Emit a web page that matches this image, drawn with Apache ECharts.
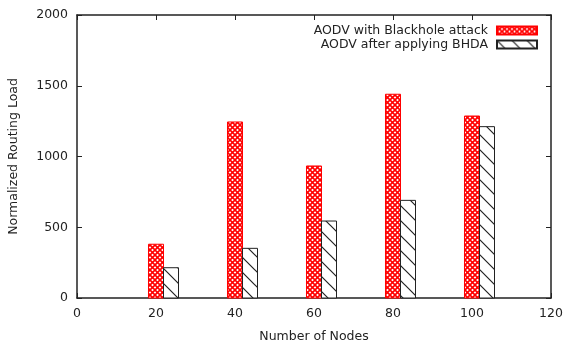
<!DOCTYPE html>
<html>
<head>
<meta charset="utf-8">
<script src="https://cdn.jsdelivr.net/npm/echarts@6/dist/echarts.min.js"></script>
<style>
  html, body { margin: 0; padding: 0; background: #fff; }
  #chart { width: 575px; height: 345px; }
</style>
</head>
<body>
<div id="chart"></div>
<script>
// data
var nodes = [20, 40, 60, 80, 100];
var blackholeLoad = [380, 1244, 933, 1440, 1286];
var bhdaLoad = [214, 351, 544, 690, 1211];
var xTicks = [0, 20, 40, 60, 80, 100, 120];
var yTicks = [0, 500, 1000, 1500, 2000];
var seriesNames = ['AODV with Blackhole attack', 'AODV after applying BHDA'];

var barSpan = 3.8; // bar width in x units

function crossPattern() {
    var c = document.createElement('canvas');
    c.width = 5; c.height = 5;
    var ctx = c.getContext('2d');
    ctx.fillStyle = '#fff';
    ctx.fillRect(0, 0, 5, 5);
    ctx.strokeStyle = '#ff0000';
    ctx.lineWidth = 1.6;
    ctx.beginPath();
    ctx.moveTo(-1, -1); ctx.lineTo(6, 6);
    ctx.moveTo(6, -1); ctx.lineTo(-1, 6);
    ctx.stroke();
    return c;
}

function hatchPattern() {
    var c = document.createElement('canvas');
    c.width = 15; c.height = 15;
    var ctx = c.getContext('2d');
    ctx.fillStyle = '#fff';
    ctx.fillRect(0, 0, 15, 15);
    ctx.strokeStyle = '#222';
    ctx.lineWidth = 1.2;
    ctx.beginPath();
    ctx.moveTo(-2, -2); ctx.lineTo(17, 17);
    ctx.moveTo(-2, 13); ctx.lineTo(2, 17);
    ctx.moveTo(13, -2); ctx.lineTo(17, 2);
    ctx.stroke();
    return c;
}

var redFill = { image: crossPattern(), repeat: 'repeat' };
var blackFill = { image: hatchPattern(), repeat: 'repeat' };

function makeBarRenderer(offset, fill, stroke) {
    return function (params, api) {
        var x = api.value(0) + offset;
        var y = api.value(1);
        var p1 = api.coord([x - barSpan / 2, y]);
        var p2 = api.coord([x + barSpan / 2, 0]);
        return {
            type: 'rect',
            shape: { x: p1[0], y: p1[1], width: p2[0] - p1[0], height: p2[1] - p1[1] },
            style: { fill: fill, stroke: stroke, lineWidth: 1 }
        };
    };
}

function pairs(xs, ys) {
    var out = [];
    for (var i = 0; i < xs.length; i++) {
        out.push([xs[i], ys[i]]);
    }
    return out;
}

var chart = echarts.init(document.getElementById('chart'));
var textColor = '#222';
var font = 'DejaVu Sans';
var fontSize = 12.5;

function plainNum(v) {
    return String(v);
}

function xAxisCfg(pos, showLabel) {
    return {
        type: 'value', position: pos,
        min: xTicks[0], max: xTicks[xTicks.length - 1], interval: 20,
        name: showLabel ? 'Number of Nodes' : '',
        nameLocation: 'middle', nameGap: 32,
        nameTextStyle: { color: textColor, fontSize: fontSize, fontFamily: font },
        axisLine: { show: true, onZero: false, lineStyle: { color: '#222', width: 1.5 } },
        axisTick: { show: true, inside: true, length: 5, lineStyle: { color: '#222' } },
        axisLabel: { show: showLabel, color: textColor, fontSize: fontSize, fontFamily: font, margin: 9, formatter: plainNum },
        splitLine: { show: false }
    };
}

function yAxisCfg(pos, showLabel) {
    return {
        type: 'value', position: pos,
        min: yTicks[0], max: yTicks[yTicks.length - 1], interval: 500,
        name: showLabel ? 'Normalized Routing Load' : '',
        nameLocation: 'middle', nameGap: 57,
        nameTextStyle: { color: textColor, fontSize: fontSize, fontFamily: font },
        axisLine: { show: true, onZero: false, lineStyle: { color: '#222', width: 1.5 } },
        axisTick: { show: true, inside: true, length: 5, lineStyle: { color: '#222' } },
        axisLabel: { show: showLabel, color: textColor, fontSize: fontSize, fontFamily: font, margin: 9, formatter: plainNum },
        splitLine: { show: false }
    };
}

var option = {
    animation: false,
    backgroundColor: '#fff',
    grid: { left: 77, right: 24, top: 15, bottom: 47, outerBoundsMode: 'none', containLabel: false },
    legend: {
        orient: 'vertical', right: 32, top: 19,
        align: 'right', itemWidth: 40, itemHeight: 8, itemGap: 1,
        icon: 'rect',
        textStyle: { color: textColor, fontSize: fontSize, fontFamily: font, padding: [0, 4, 0, 0] },
        data: seriesNames
    },
    xAxis: [xAxisCfg('bottom', true), xAxisCfg('top', false)],
    yAxis: [yAxisCfg('left', true), yAxisCfg('right', false)],
    series: [
        {
            name: seriesNames[0], type: 'custom',
            itemStyle: { color: redFill, borderColor: '#ff0000', borderWidth: 1 },
            renderItem: makeBarRenderer(0, redFill, '#ff0000'),
            data: pairs(nodes, blackholeLoad)
        },
        {
            name: seriesNames[1], type: 'custom',
            itemStyle: { color: blackFill, borderColor: '#222', borderWidth: 1 },
            renderItem: makeBarRenderer(barSpan, blackFill, '#222'),
            data: pairs(nodes, bhdaLoad)
        }
    ]
};
chart.setOption(option);
</script>
</body>
</html>
